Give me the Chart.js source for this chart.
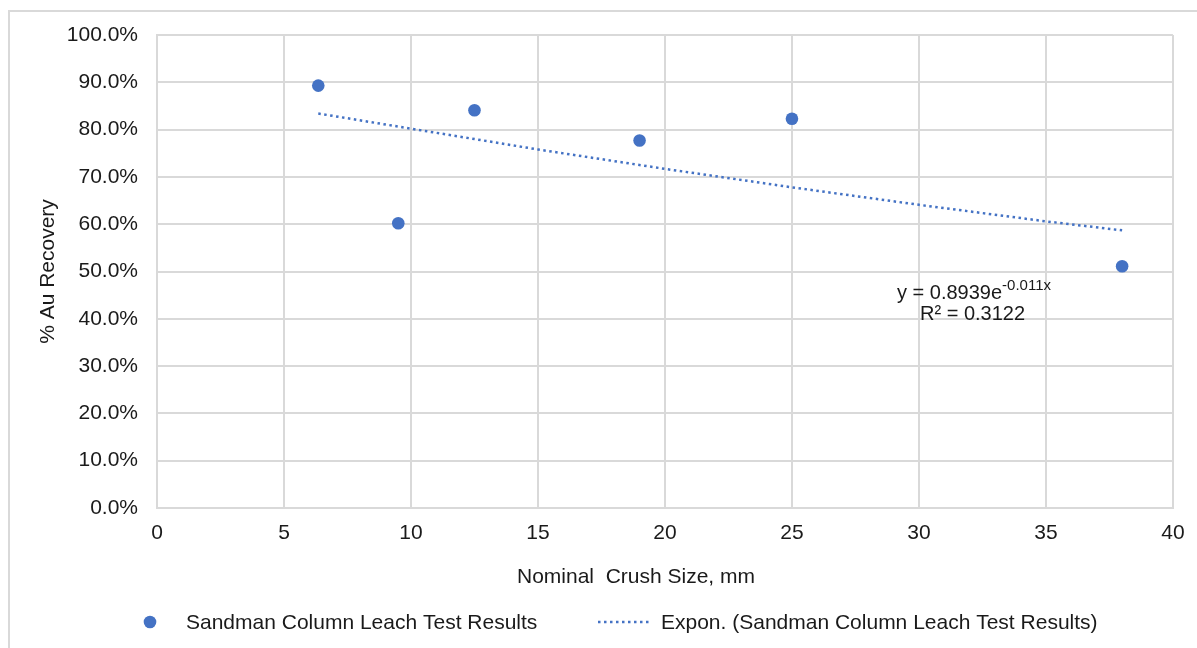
<!DOCTYPE html>
<html><head><meta charset="utf-8">
<script src="https://cdn.jsdelivr.net/npm/chart.js@4"></script>
<style>
html,body{margin:0;padding:0;background:#fff;overflow:hidden;width:1197px;height:648px;}
#frame{position:absolute;left:8px;top:10px;width:1200px;height:660px;border:2px solid #d9d9d9;box-sizing:border-box;}
#wrap{position:absolute;left:0;top:0;width:1197px;height:648px;}
</style></head><body>
<div id="frame"></div>
<div id="wrap"><canvas id="c" width="1197" height="648"></canvas></div>
<script>
// ---- data ----
const crushSize = [6.35, 9.5, 12.5, 19, 25, 38];           // mm
const recovery  = [0.893, 0.602, 0.841, 0.777, 0.823, 0.511];
const trendX    = [6.35, 10, 15, 20, 25, 30, 35, 38];
const trendY    = [0.834, 0.802, 0.758, 0.717, 0.678, 0.641, 0.606, 0.587];
const xTicks    = [0, 5, 10, 15, 20, 25, 30, 35, 40];
const yTicks    = [0, 0.1, 0.2, 0.3, 0.4, 0.5, 0.6, 0.7, 0.8, 0.9, 1.0];
const seriesName = 'Sandman Column Leach Test Results';
const trendName  = 'Expon. (Sandman Column Leach Test Results)';
const eqMain = 'y = 0.8939e';
const eqSup  = '-0.011x';
const eqR2   = 'R² = 0.3122';
const xTitle = 'Nominal  Crush Size, mm';
const yTitle = '% Au Recovery';

const BLUE = '#4472C4';
const TXT = '#1a1a1a';
const GRID = '#d9d9d9';
const FONT = '"Liberation Sans", Arial, sans-serif';
const FS = 21;

const extrasPlugin = {
  id: 'extras',
  afterDraw(c){
    const ctx = c.ctx;
    ctx.save();
    ctx.fillStyle = TXT;
    ctx.textBaseline = 'alphabetic';
    ctx.textAlign = 'left';
    // trendline equation
    ctx.font = '20px ' + FONT;
    ctx.fillText(eqMain, 897, 299);
    const w = ctx.measureText(eqMain).width;
    ctx.font = '15px ' + FONT;
    ctx.fillText(eqSup, 897 + w, 290);
    ctx.font = '20px ' + FONT;
    ctx.fillText(eqR2, 920, 320);
    // x axis title (offset left of plot centre as in the reference)
    ctx.font = FS + 'px ' + FONT;
    ctx.textAlign = 'center';
    ctx.textBaseline = 'middle';
    ctx.fillText(xTitle, 636, 577);
    // legend
    ctx.textAlign = 'left';
    const ds = c.data.datasets;
    ctx.beginPath();
    ctx.arc(150, 622, 6.3, 0, Math.PI * 2);
    ctx.fillStyle = ds[0].backgroundColor;
    ctx.fill();
    ctx.fillStyle = TXT;
    ctx.fillText(ds[0].label, 186, 623);
    ctx.beginPath();
    ctx.setLineDash(ds[1].borderDash);
    ctx.lineWidth = ds[1].borderWidth;
    ctx.strokeStyle = ds[1].borderColor;
    ctx.moveTo(598, 622); ctx.lineTo(652, 622);
    ctx.stroke();
    ctx.setLineDash([]);
    ctx.fillText(ds[1].label, 661, 623);
    ctx.restore();
  }
};

new Chart(document.getElementById('c'), {
  type: 'scatter',
  data: {
    datasets: [
      {
        label: seriesName,
        data: crushSize.map((x, i) => ({x, y: recovery[i]})),
        backgroundColor: BLUE,
        borderColor: BLUE,
        pointRadius: 6.3,
        pointHoverRadius: 6.3,
        borderWidth: 0
      },
      {
        label: trendName,
        data: trendX.map((x, i) => ({x, y: trendY[i]})),
        showLine: true,
        borderColor: BLUE,
        backgroundColor: BLUE,
        borderWidth: 2.5,
        borderDash: [2.5, 3.5],
        pointRadius: 0,
        tension: 0
      }
    ]
  },
  options: {
    responsive: false,
    animation: false,
    layout: { padding: { left: 0, top: 35, right: 24, bottom: 54.4 } },
    plugins: { legend: { display: false }, tooltip: { enabled: false } },
    scales: {
      x: {
        type: 'linear', min: 0, max: 40,
        afterBuildTicks(s){ s.ticks = xTicks.map(v => ({value: v})); },
        afterFit(s){ s.height = 85.6; },
        grid: { color: GRID, lineWidth: 2, drawTicks: false },
        border: { color: GRID, width: 2 },
        ticks: { color: TXT, font: { family: FONT, size: FS }, padding: 12.4, maxRotation: 0 },
        title: { display: false, text: xTitle }
      },
      y: {
        type: 'linear', min: 0, max: 1,
        afterBuildTicks(s){ s.ticks = yTicks.map(v => ({value: v})); },
        afterFit(s){ s.width = 157; },
        grid: { color: GRID, lineWidth: 2, drawTicks: false },
        border: { color: GRID, width: 2 },
        ticks: { color: TXT, font: { family: FONT, size: FS }, padding: 19,
                 callback: v => (v * 100).toFixed(1) + '%' },
        title: { display: true, text: yTitle, color: TXT, font: { family: FONT, size: FS }, padding: { top: 36, bottom: 0 } }
      }
    }
  },
  plugins: [extrasPlugin]
});
</script>
</body></html>
